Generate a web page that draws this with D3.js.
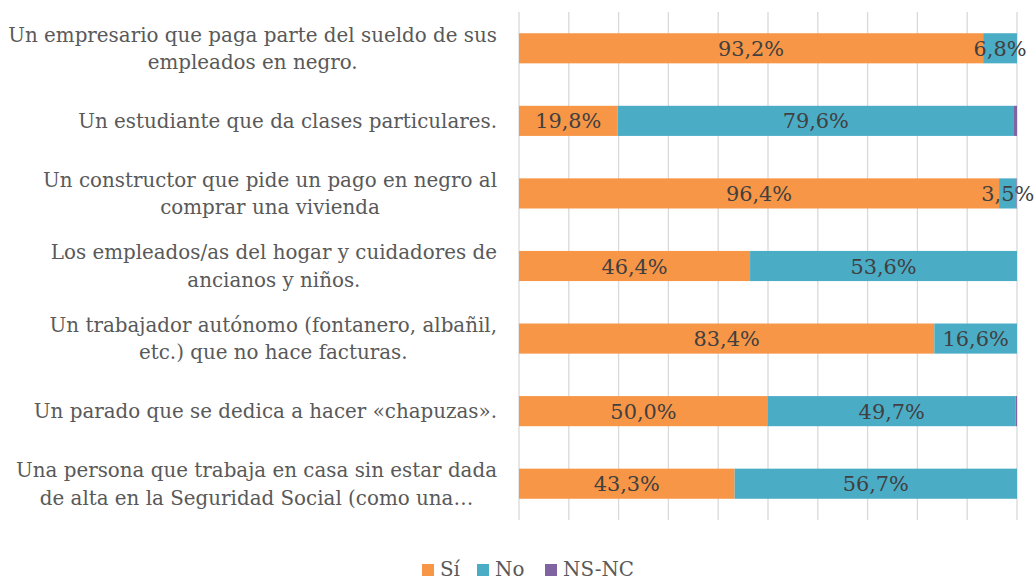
<!DOCTYPE html>
<html><head><meta charset="utf-8">
<script src="https://cdn.jsdelivr.net/npm/d3@7"></script>
<style>body{margin:0;background:#fff}svg{display:block}</style>
</head><body>
<script>
const categories = [
  ["Un empresario que paga parte del sueldo de sus", "empleados en negro."],
  ["Un estudiante que da clases particulares."],
  ["Un constructor que pide un pago en negro al", "comprar una vivienda"],
  ["Los empleados/as del hogar y cuidadores de", "ancianos y niños."],
  ["Un trabajador autónomo (fontanero, albañil,", "etc.) que no hace facturas."],
  ["Un parado que se dedica a hacer «chapuzas»."],
  ["Una persona que trabaja en casa sin estar dada", "de alta en la Seguridad Social (como una…"]
];
const seriesNames = ["Sí", "No", "NS-NC"];
const si    = [93.2, 19.8, 96.4, 46.4, 83.4, 50.0, 43.3];
const no    = [6.8, 79.6, 3.5, 53.6, 16.6, 49.7, 56.7];
const nsnc  = [0.0, 0.6, 0.1, 0.0, 0.0, 0.3, 0.0];
const colors = ["#F79646", "#4BACC6", "#8064A2"];
const xTicks = [0,10,20,30,40,50,60,70,80,90,100];

const W = 1036, H = 581;
const svg = d3.select("body").append("svg").attr("width", W).attr("height", H);
const font = "DejaVu Serif";

const x = d3.scaleLinear().domain([0,100]).range([519,1017]);
const y = d3.scaleBand().domain(d3.range(categories.length)).range([12,520])
  .paddingInner(0.585).paddingOuter(0.2925);

// gridlines
svg.append("g").selectAll("line").data(xTicks).join("line")
  .attr("x1", d=>x(d)).attr("x2", d=>x(d)).attr("y1", 12).attr("y2", 520)
  .attr("stroke", "#d9d9d9").attr("stroke-width", 1.3);

const rows = categories.map((c,i)=>({i, vals:[si[i], no[i], nsnc[i]]}));
const stack = d3.stack().keys([0,1,2]).value((d,k)=>d.vals[k])(rows);

// measure label font size
const probe = svg.append("text").attr("font-family", font).attr("font-size", 20).text(categories[0][0]);
const len = probe.node().getComputedTextLength();
probe.remove();
const labelSize = 20 * 489 / len;

const g = svg.append("g");
stack.forEach((layer, k)=>{
  g.append("g").selectAll("rect").data(layer).join("rect")
    .attr("x", d=>x(d[0])).attr("width", d=>x(d[1])-x(d[0]))
    .attr("y", (d,i)=>y(i)).attr("height", y.bandwidth())
    .attr("fill", colors[k]);
  if (k < 2) {
    g.append("g").selectAll("text").data(layer).join("text")
      .attr("x", d=>(x(d[0])+x(d[1]))/2)
      .attr("y", (d,i)=>y(i)+y.bandwidth()/2)
      .attr("dy", "0.36em")
      .attr("text-anchor", "middle")
      .attr("font-family", font).attr("font-size", labelSize*1.05)
      .attr("fill", "#404040")
      .text(d=>(d[1]-d[0]).toFixed(1).replace(".", ",") + "%");
  }
});

// category labels
const lineH = 27.5;
categories.forEach((lines, i)=>{
  const cy = y(i) + y.bandwidth()/2;
  const t = svg.append("text").attr("font-family", font).attr("font-size", labelSize)
    .attr("fill", "#595959");
  const spans = lines.map((ln, j)=> t.append("tspan").text(ln));
  const widths = spans.map(s=>s.node().getComputedTextLength());
  const maxW = d3.max(widths);
  const right = 497;
  const center = right - maxW/2;
  spans.forEach((s,j)=>{
    s.attr("x", center).attr("text-anchor", "middle")
     .attr("y", cy + (j - (lines.length-1)/2)*lineH).attr("dy", "0.36em");
  });
});

// legend
const legendX = [422, 477, 545];
const lg = svg.append("g");
seriesNames.forEach((n, k)=>{
  lg.append("rect").attr("x", legendX[k]).attr("y", 564).attr("width", 12).attr("height", 12).attr("fill", colors[k]);
  lg.append("text").attr("x", legendX[k]+18).attr("y", 569).attr("dy","0.36em")
    .attr("font-family", font).attr("font-size", labelSize).attr("fill", "#595959").text(n);
});
</script>
</body></html>
